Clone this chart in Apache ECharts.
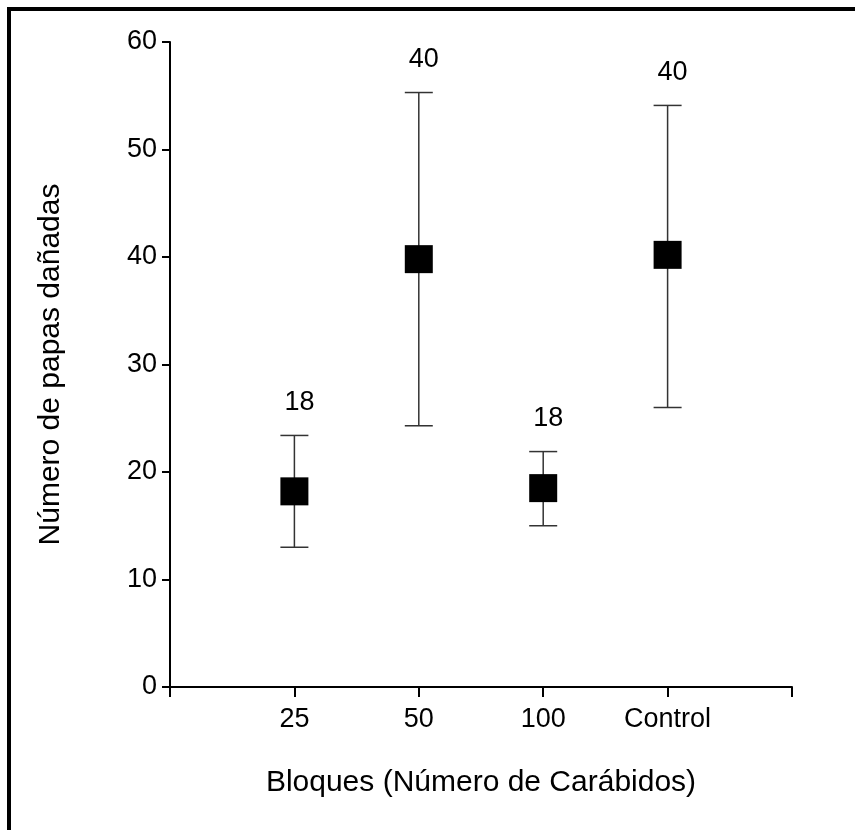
<!DOCTYPE html>
<html>
<head>
<meta charset="utf-8">
<script src="https://cdn.jsdelivr.net/npm/echarts@6/dist/echarts.min.js"></script>
<style>
  html, body { margin: 0; padding: 0; background: #fff; }
  #chart { width: 855px; height: 830px; }
</style>
</head>
<body>
<div id="chart"></div>
<script>
// bloques (número de carábidos)
const categories = ['25', '50', '100', 'Control']
const xTicks = ['', '25', '50', '100', 'Control', '']
const means = [18.2, 39.8, 18.5, 40.2]
const lower = [13.0, 24.3, 15.0, 26.0]
const upper = [23.4, 55.3, 21.9, 54.1]
const meanLabels = ['18', '40', '18', '40']

const font = '"Liberation Sans", Arial, sans-serif'
const chart = echarts.init(document.getElementById('chart'))

const errData = categories.map((c, i) => [i + 1, lower[i], upper[i]])
const pointData = categories.map((c, i) => [i + 1, means[i]])

chart.setOption({
  animation: false,
  backgroundColor: '#fff',
  graphic: [
    {
      // marco recortado (solo lados izquierdo y superior visibles)
      type: 'rect',
      shape: { x: 9, y: 9, width: 1000, height: 1000 },
      style: { fill: 'none', stroke: '#000', lineWidth: 4 },
    },
  ],
  grid: { left: 170, right: 63, top: 42, bottom: 143 },
  xAxis: {
    type: 'value',
    min: 0,
    max: 5,
    interval: 1,
    name: 'Bloques (Número de Carábidos)',
    nameLocation: 'middle',
    nameGap: 81,
    nameTextStyle: { fontSize: 30, color: '#000', fontFamily: font },
    axisLine: { lineStyle: { color: '#000', width: 2 } },
    axisTick: { show: true, length: 10, lineStyle: { color: '#000', width: 2 } },
    axisLabel: {
      fontSize: 27, color: '#000', fontFamily: font, margin: 19,
      formatter: v => xTicks[Math.round(v)] || '',
    },
    splitLine: { show: false },
  },
  yAxis: {
    type: 'value',
    min: 0,
    max: 60,
    interval: 10,
    name: 'Número de papas dañadas',
    nameLocation: 'middle',
    nameGap: 104,
    nameTextStyle: { fontSize: 30, color: '#000', fontFamily: font },
    axisLine: { show: true, lineStyle: { color: '#000', width: 2 } },
    axisTick: { show: true, length: 8, lineStyle: { color: '#000', width: 2 } },
    axisLabel: { fontSize: 27, color: '#000', fontFamily: font, margin: 13 },
    splitLine: { show: false },
  },
  series: [
    {
      type: 'custom',
      data: errData,
      z: 2,
      renderItem: function (params, api) {
        const x = api.value(0)
        const top = api.coord([x, api.value(2)])
        const bot = api.coord([x, api.value(1)])
        const hw = 14
        const st = { stroke: '#333', lineWidth: 1.5 }
        return {
          type: 'group',
          children: [
            { type: 'line', shape: { x1: top[0], y1: top[1], x2: bot[0], y2: bot[1] }, style: st },
            { type: 'line', shape: { x1: top[0] - hw, y1: top[1], x2: top[0] + hw, y2: top[1] }, style: st },
            { type: 'line', shape: { x1: bot[0] - hw, y1: bot[1], x2: bot[0] + hw, y2: bot[1] }, style: st },
            {
              type: 'text',
              x: top[0] + 5,
              y: top[1] - 33,
              style: {
                text: meanLabels[params.dataIndex],
                fontSize: 27,
                fontFamily: font,
                fill: '#000',
                align: 'center',
                verticalAlign: 'middle',
              },
            },
          ],
        }
      },
    },
    {
      type: 'scatter',
      data: pointData,
      z: 3,
      symbol: 'rect',
      symbolSize: 28,
      itemStyle: { color: '#000', opacity: 1 },
    },
  ],
})
</script>
</body>
</html>
